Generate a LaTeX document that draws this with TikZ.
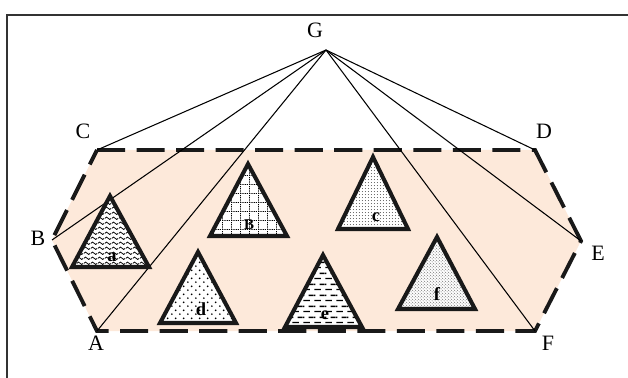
\documentclass[tikz,border=0pt]{standalone}
\usepackage{fontspec}
\setmainfont{Liberation Serif}
\usetikzlibrary{patterns}
\definecolor{peach}{RGB}{253,233,218}

% fill patterns for the six triangles
\pgfdeclarepatternformonly{waves}{\pgfpointorigin}{\pgfpoint{4pt}{2.8pt}}{\pgfpoint{4pt}{2.8pt}}{
  \pgfsetlinewidth{0.45pt}
  \pgfpathmoveto{\pgfpoint{0pt}{1pt}}
  \pgfpathsine{\pgfpoint{1pt}{0.7pt}}
  \pgfpathcosine{\pgfpoint{1pt}{-0.7pt}}
  \pgfpathsine{\pgfpoint{1pt}{-0.7pt}}
  \pgfpathcosine{\pgfpoint{1pt}{0.7pt}}
  \pgfusepath{stroke}
}
\pgfdeclarepatternformonly{dotgrid}{\pgfpointorigin}{\pgfpoint{5.3pt}{5.3pt}}{\pgfpoint{5.3pt}{5.3pt}}{
  \foreach \k in {0,...,4}{
    \pgfpathrectangle{\pgfpoint{\k*1.06pt}{0pt}}{\pgfpoint{0.5pt}{0.5pt}}
    \pgfpathrectangle{\pgfpoint{0pt}{\k*1.06pt}}{\pgfpoint{0.5pt}{0.5pt}}
    \pgfusepath{fill}
  }
}
\pgfdeclarepatternformonly{finedots}{\pgfpointorigin}{\pgfpoint{1.9pt}{1.9pt}}{\pgfpoint{1.9pt}{1.9pt}}{
  \pgfpathcircle{\pgfpoint{0.95pt}{0.95pt}}{0.28pt}
  \pgfusepath{fill}
}
\pgfdeclarepatternformonly{densedots}{\pgfpointorigin}{\pgfpoint{1.9pt}{1.9pt}}{\pgfpoint{1.9pt}{1.9pt}}{
  \pgfpathcircle{\pgfpoint{0.47pt}{0.47pt}}{0.27pt}
  \pgfpathcircle{\pgfpoint{1.42pt}{1.42pt}}{0.27pt}
  \pgfusepath{fill}
}
\pgfdeclarepatternformonly{bigdots}{\pgfpointorigin}{\pgfpoint{4.4pt}{4.4pt}}{\pgfpoint{4.4pt}{4.4pt}}{
  \pgfpathcircle{\pgfpoint{1.1pt}{1.1pt}}{0.55pt}
  \pgfpathcircle{\pgfpoint{3.3pt}{3.3pt}}{0.55pt}
  \pgfusepath{fill}
}
\pgfdeclarepatternformonly{dashrows}{\pgfpointorigin}{\pgfpoint{6.4pt}{6pt}}{\pgfpoint{6.4pt}{6pt}}{
  \pgfpathrectangle{\pgfpoint{0.2pt}{1.1pt}}{\pgfpoint{3.9pt}{0.8pt}}
  \pgfpathrectangle{\pgfpoint{3.4pt}{4.1pt}}{\pgfpoint{3pt}{0.8pt}}
  \pgfpathrectangle{\pgfpoint{0pt}{4.1pt}}{\pgfpoint{0.9pt}{0.8pt}}
  \pgfusepath{fill}
}

\tikzset{
  zone/.style={fill=peach, draw=black!90, line width=2.2pt, dash pattern=on 16pt off 6.5pt},
  ray/.style={draw=black, line width=0.6pt},
  tri/.style={draw=black!90, line width=2.3pt, line join=miter, preaction={fill=white}},
  vlabel/.style={font=\fontsize{12.5}{14}\selectfont, inner sep=0pt},
  tlabel/.style={font=\fontsize{10.5}{12}\selectfont\bfseries, inner sep=0pt, anchor=base},
  frame/.style={draw=black!80, line width=0.7pt}
}

\begin{document}
\begin{tikzpicture}[x=0.02cm, y=-0.02cm]
\useasboundingbox (0,0) rectangle (628,378);
\draw[frame] (7,378) -- (7,15) -- (628,15);
% hexagon corners and the apex
\coordinate (C) at (97,150); \coordinate (D) at (535,150);
\coordinate (E) at (581,241); \coordinate (F) at (535,331);
\coordinate (A) at (97,331); \coordinate (B) at (52,240);
\coordinate (G) at (326,50);
\node[vlabel] (lG) at (315,30) {G};
\node[vlabel] (lC) at (83,131) {C};
\node[vlabel] (lD) at (544,131) {D};
\node[vlabel] (lE) at (598,253) {E};
\node[vlabel] (lF) at (548,343) {F};
\node[vlabel] (lA) at (96,343) {A};
\node[vlabel] (lB) at (38,238) {B};
\path[zone] (C) -- (D) -- (E) -- (F) -- (A) -- (B) -- cycle;
\draw[ray] (G) -- (C); \draw[ray] (G) -- (B); \draw[ray] (G) -- (A);
\draw[ray] (G) -- (D); \draw[ray] (G) -- (E); \draw[ray] (G) -- (F);
% triangles
\draw[tri, pattern=waves] (110,196) -- (72,267) -- (149,267) -- cycle;
\node[tlabel] (ta) at (112,261) {a};
\draw[tri, pattern=dotgrid] (248,164) -- (210,236) -- (287,236) -- cycle;
\node[tlabel] (tb) at (249,229) {\fontsize{8.5}{9}\selectfont B};
\draw[tri, pattern=finedots] (373,157) -- (338,229) -- (408,229) -- cycle;
\node[tlabel] (tc) at (376,221) {c};
\draw[tri, pattern=bigdots] (198,252) -- (160,323) -- (236,323) -- cycle;
\node[tlabel] (td) at (201,315) {d};
\draw[tri, pattern=dashrows] (323,255) -- (285,327) -- (362,327) -- cycle;
\node[tlabel] (te) at (325,319) {e};
\draw[tri, pattern=densedots] (437,237) -- (398,309) -- (475,309) -- cycle;
\node[tlabel] (tf) at (437,300) {f};
\end{tikzpicture}
\end{document}
